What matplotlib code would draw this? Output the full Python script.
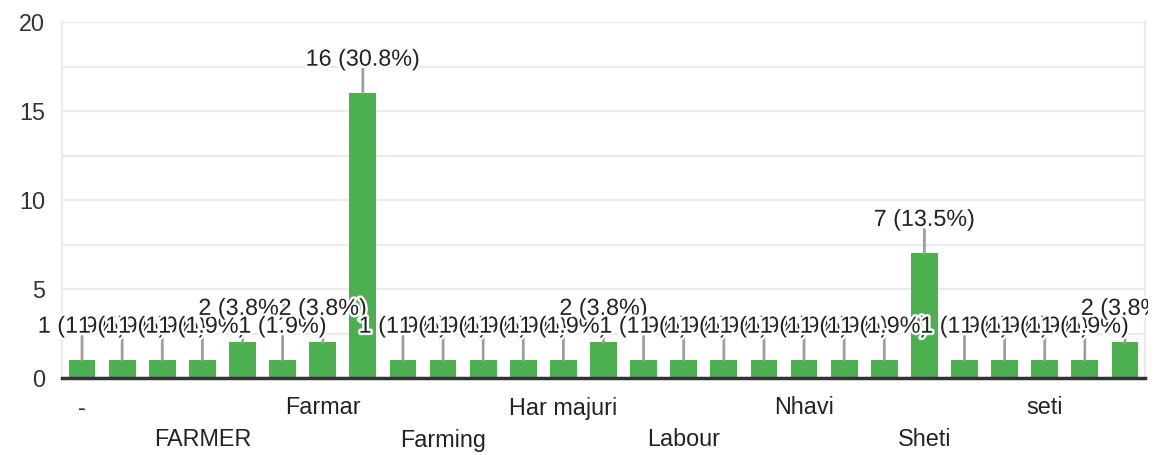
import numpy as np
import matplotlib.pyplot as plt
import matplotlib.patheffects as pe
from matplotlib.transforms import Bbox, TransformedBbox

# answers, in the order shown (only every third name is printed on the axis)
categories = [
    "-", "Business", "Driver", "FARMER", "Farm", "Farm labour", "Farmar",
    "Farmer", "Farmer ", "Farming", "Farming ", "Government job", "Har majuri",
    "Housewife", "Job", "Labour", "Mazdoor", "Mistri", "Nhavi", "Private job",
    "Shetkari", "Sheti", "Shop", "Student", "seti", "shetkari", "shetmajur",
]
counts = [1, 1, 1, 1, 2, 1, 2, 16, 1, 1, 1, 1, 1, 2, 1,
          1, 1, 1, 1, 1, 1, 7, 1, 1, 1, 1, 2]

BAR = "#4caf50"
GRID = "#ebebeb"
TEXT = "#222222"
FS = 16.8

plt.rcParams["font.family"] = ["Liberation Sans", "DejaVu Sans"]

total = sum(counts)
x = np.arange(len(categories))

fig = plt.figure(figsize=(11.55, 4.55), dpi=100)
ax = fig.add_axes([62 / 1155, 1 - 378 / 455, (1145 - 62) / 1155, (378 - 22) / 455])

ax.bar(x, counts, width=0.67, color=BAR, zorder=2)

ax.set_xlim(-0.5, len(categories) - 0.5)
ax.set_ylim(0, 20)
ax.set_yticks([0, 5, 10, 15, 20])
ax.set_yticks([2.5, 7.5, 12.5, 17.5], minor=True)
ax.grid(axis="y", which="both", color=GRID, linewidth=1.6, zorder=0)
ax.tick_params(axis="y", which="both", length=0, pad=12, labelsize=FS, labelcolor="#333333")
ax.set_xticks([])

for side in ["left", "right"]:
    ax.spines[side].set_color(GRID)
    ax.spines[side].set_linewidth(1.6)
ax.spines["top"].set_visible(False)
ax.spines["bottom"].set_color("#333333")
ax.spines["bottom"].set_linewidth(2.5)
ax.spines["bottom"].set_zorder(3)

# category names, every third one, on two alternating rows
for i in range(0, len(categories), 3):
    row = (i // 3) % 2
    ax.annotate(categories[i], xy=(i, 0), xycoords=("data", "axes fraction"),
                xytext=(0, -30 - 32 * row), textcoords="offset pixels",
                ha="center", va="center", fontsize=FS, color=TEXT)

# value labels with leader lines, clipped at the chart's right edge
clip = TransformedBbox(Bbox([[0, 0], [1148 / 1155, 1]]), fig.transFigure)
halo = [pe.withStroke(linewidth=3.5, foreground="white")]
for i, c in enumerate(counts):
    ax.annotate("", xy=(i, c), xytext=(0, 24), textcoords="offset pixels",
                arrowprops=dict(arrowstyle="-", color="#9e9e9e", lw=2,
                                shrinkA=0, shrinkB=0), zorder=3)
    t = ax.annotate(f"{c} ({c / total * 100:.1f}%)", xy=(i, c),
                    xytext=(0, 34), textcoords="offset pixels",
                    ha="center", va="center", fontsize=FS, color=TEXT,
                    path_effects=halo, zorder=4, annotation_clip=False)
    t.set_clip_box(clip)
    t.set_clip_on(True)

fig.savefig("out.png", dpi=100)
